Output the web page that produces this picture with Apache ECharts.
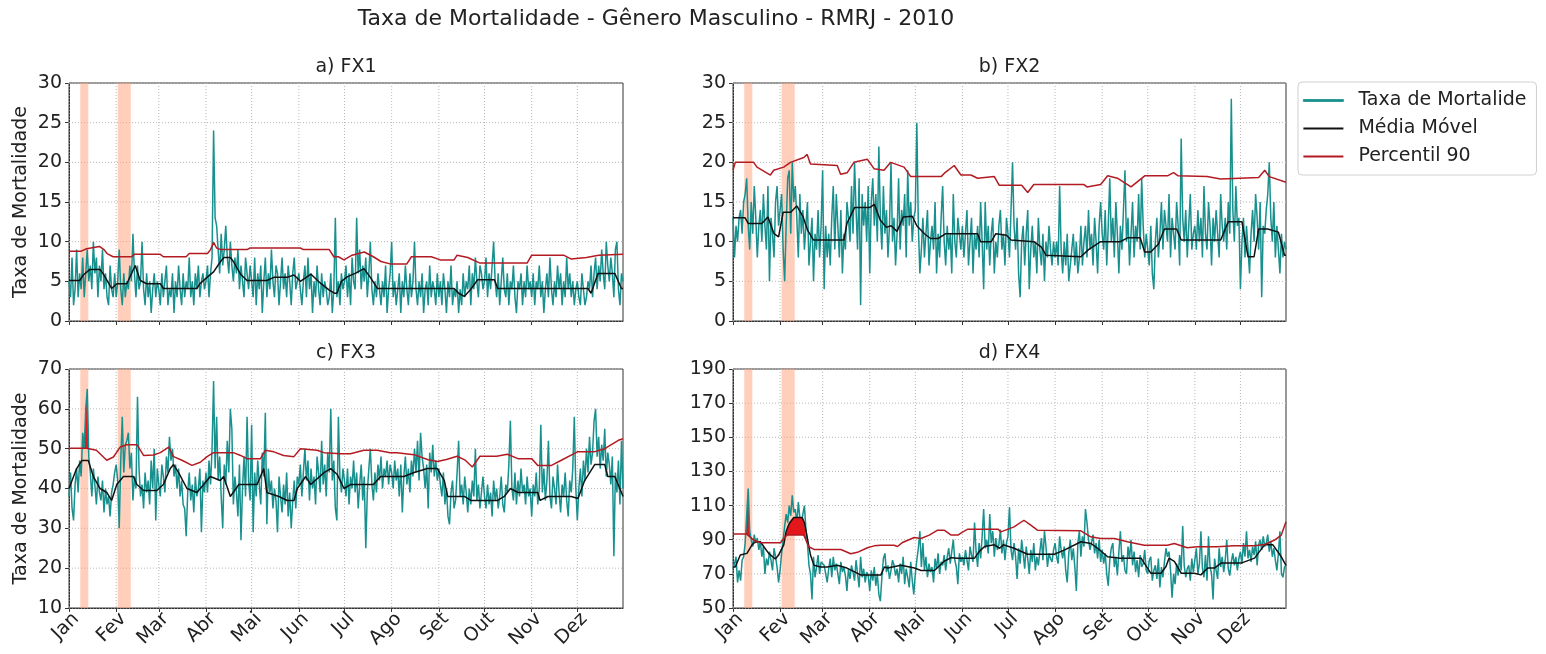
<!DOCTYPE html>
<html>
<head>
<meta charset="utf-8">
<script src="https://cdn.jsdelivr.net/npm/echarts@6/dist/echarts.min.js"></script>
<style>
  html, body { margin: 0; padding: 0; background: #ffffff; }
  #grafico { width: 1546px; height: 654px; }
</style>
</head>
<body>
<div id="grafico"></div>
<script>
// Eixo do tempo: dia do ano (0 = 1º de janeiro de 2010)
const meses = ['Jan', 'Fev', 'Mar', 'Abr', 'Mai', 'Jun', 'Jul', 'Ago', 'Set', 'Out', 'Nov', 'Dez'];
const inicioMes = [0, 31, 59, 90, 120, 151, 181, 212, 243, 273, 304, 334];

// Períodos de onda de calor (dia inicial, dia final)
const ondasCalor = [[7.4, 12.7], [32, 40.6]];

// Marcas do eixo y de cada faixa etária
const ticksFX1 = [0, 5, 10, 15, 20, 25, 30];
const ticksFX2 = [0, 5, 10, 15, 20, 25, 30];
const ticksFX3 = [10, 20, 30, 40, 50, 60, 70];
const ticksFX4 = [50, 70, 90, 110, 130, 150, 170, 190];

// ---------- FX1 ----------
const taxaFX1 = [
  5,3,8,2,4,9,3,6,4,8,3,6,9,5,7,4,10,6,8,3,7,5,9,4,6,3,2,7,4,3,6,
  3,5,9,4,2,6,3,5,4,7,5,11,6,3,7,4,5,10,4,2,6,3,5,1,4,6,3,5,
  4,2,6,3,5,7,2,4,3,6,1,5,3,7,4,2,6,3,5,4,8,3,5,2,6,4,7,3,5,6,4,
  5,7,3,6,8,24,13,12,9,6,11,7,9,12,8,6,10,7,5,8,6,9,4,7,5,3,8,6,4,7,
  5,3,8,2,6,4,7,1,5,8,3,6,4,9,5,3,7,6,2,5,8,4,6,3,7,5,2,6,8,4,5,
  6,4,2,5,7,3,8,4,6,1,5,3,7,4,2,6,3,5,4,2,3,6,1,4,13,3,5,2,6,4,
  5,7,3,6,2,8,5,4,13,6,9,4,7,5,8,3,6,10,4,2,5,3,6,4,2,5,3,7,1,4,6,
  10,3,5,2,4,6,1,5,3,7,4,2,6,3,5,10,4,2,5,3,6,1,4,5,2,7,3,5,4,2,6,
  3,5,2,6,4,1,5,3,7,2,4,3,5,1,4,2,6,3,5,4,7,2,6,4,8,5,3,7,6,4,
  5,8,3,6,4,7,10,5,3,6,2,5,8,4,3,6,2,5,4,7,3,1,5,4,6,2,5,3,7,4,5,
  3,6,2,5,4,7,3,5,1,4,6,3,8,4,2,5,3,7,4,6,2,5,3,8,4,6,3,5,2,4,
  5,3,2,6,4,2,3,5,4,7,3,6,8,4,7,5,9,6,4,10,7,5,8,6,3,9,10,4,2,6,5
];
const mediaFX1 = [[0,5.1],[7,5.1],[9.4,5.8],[13.8,6.5],[20.4,6.5],[22.6,5.9],[28,4.1],[31.4,4.7],[38,4.7],[43.5,7],[46.8,5.1],[51,4.7],[60,4.7],[62,4.1],[84,4.1],[86,4.7],[90.7,5.5],[95,6.2],[99.6,7.5],[101.8,8],[106,8],[108,7.5],[112.7,5.9],[117,5.1],[130,5.1],[134.6,5.5],[143.4,5.5],[147.8,5.8],[152,5],[159,5.9],[165.6,4.7],[171,3.9],[174.4,3.5],[176,3.5],[179,5],[183,5.6],[188,6],[193.8,6.6],[198,5.5],[202.6,4.1],[253,4.1],[256,3.5],[259.7,3.1],[264,4],[268.5,5.2],[279.5,5.2],[281.7,4.1],[341,4.1],[343,3.5],[347.6,6],[358.6,6],[363,4.1],[364,4.1]];
const p90FX1 = [[0,8.8],[8,8.8],[11.6,9.1],[20,9.4],[23,9],[25,8.5],[29,8.1],[41,8.1],[43,8.4],[60,8.4],[62,8.1],[77,8.1],[79,8.5],[91,8.5],[93,9],[95,9.9],[97,9.2],[99.6,9],[117,9],[119,9.2],[152,9.2],[154,9],[171,9],[174,8.1],[177,8.1],[180.7,7.7],[186,8.3],[194,8.7],[200,8.1],[205,7.5],[211,7.2],[222,7.2],[225,8.1],[238,8.1],[244,7.7],[253,7.7],[255,8.3],[262,8],[270,7.3],[301,7.3],[304,8.3],[325,8.3],[330,7.8],[340,8],[348,8.3],[364,8.4]];

// ---------- FX2 ----------
const taxaFX2 = [
  13,8,12,10,13,14,11,15,16,18,12,9,15,11,17,13,8,12,14,10,16,12,9,17,5,13,11,8,15,17,12,
  14,16,9,5,12,18,19,11,20,15,17,13,8,16,11,14,9,12,15,7,10,13,5,11,9,14,8,12,
  19,4,12,8,11,7,13,17,9,16,12,8,14,6,11,9,15,13,10,17,11,20,14,9,18,2,16,12,15,10,17,
  6,15,18,12,16,10,22,13,9,17,11,14,8,12,20,10,13,7,11,18,9,14,12,16,8,19,12,15,10,13,
  14,25,12,6,9,13,8,11,14,7,10,12,9,15,6,11,8,13,17,10,7,12,9,11,6,16,10,8,13,11,9,
  12,8,11,14,7,10,13,6,11,9,12,8,15,10,4,15,9,12,7,11,13,6,10,8,12,14,9,11,7,13,
  11,8,14,20,12,9,13,6,3,10,12,7,11,14,4,9,12,8,10,6,13,9,7,11,5,10,8,12,9,7,10,
  8,10,7,17,9,6,10,7,11,5,5,9,11,7,10,6,8,12,7,10,12,8,14,9,11,7,13,10,6,12,15,
  11,9,14,7,12,18,10,13,8,15,11,6,12,9,14,19,10,13,7,11,15,8,12,10,16,9,18,12,8,11,
  9,7,12,6,4,10,13,8,11,15,9,14,12,10,16,8,13,11,9,15,12,7,23,13,10,14,8,12,16,9,11,
  12,9,14,10,13,8,17,11,9,15,12,7,13,10,14,11,8,16,12,10,13,9,15,11,28,14,10,17,12,13,
  4,10,13,8,12,9,6,11,14,10,16,13,9,15,3,12,11,14,16,20,13,10,15,8,12,9,6,11,8,10,9
];
const mediaFX2 = [[0,13],[8,13],[10,12.3],[19,12.3],[23,13.1],[27,11],[30,10.6],[33,13.7],[38,13.7],[42,14.5],[46,13.2],[49,11.5],[53,10.2],[73,10.2],[75,12.3],[80,14.3],[90,14.3],[93,14.7],[97,12.7],[101,11.8],[104,12],[108,11.3],[112,13.1],[118,13.2],[121,12],[126,11],[130,10.4],[135,10.4],[140,11],[161,11],[163,10],[170,10],[173,11],[180,10.8],[183,10.2],[198,10],[203,9.3],[206,8.3],[229,8.1],[234,9],[242,10],[255,10],[260,10.5],[268,10.5],[271,8.7],[275,8.7],[280,9.7],[284,11.6],[292,11.6],[295,10.2],[321,10.2],[326,12.5],[335,12.5],[339,8.1],[343,8.1],[346,11.6],[352,11.6],[359,11.2],[363,8.3],[364,8.3]];
const p90FX2 = [[0,19],[1.5,20],[13.6,20],[15.8,19.4],[24.6,18.4],[26.8,19],[33.4,19.4],[37.8,20],[46.6,20.6],[48.8,21],[51,19.8],[68.6,19.6],[70.8,18.5],[75.2,18.7],[79.6,20],[88.4,20.4],[92.8,19.2],[99.4,19],[103.8,20],[112.6,19.4],[117,18.2],[137,18.2],[139,18.6],[145.6,19.6],[150,18.4],[156.6,18.4],[161,18],[172,18.2],[175.3,17.1],[190,17.1],[194,16.2],[198,17.2],[231,17.2],[233,16.9],[242,17.2],[246.6,18.3],[253,18],[262,16.9],[271,18.3],[286,18.3],[290,18.7],[293,18.3],[312,18.2],[321,17.9],[346,18.1],[350,19],[353,18.2],[364,17.5]];

// ---------- FX3 ----------
const taxaFX3 = [
  38,44,35,32,41,45,39,47,43,54,50,60,65,48,44,38,45,41,36,43,39,37,42,34,40,36,38,33,39,41,44,
  46,42,30,47,58,44,51,52,54,45,49,37,43,40,63,45,38,41,35,44,39,42,36,47,40,50,32,45,
  41,38,46,43,39,48,44,53,47,50,43,46,40,45,38,42,36,35,28,39,44,37,41,34,43,38,40,45,29,42,39,
  44,39,47,41,50,67,45,58,42,48,38,30,46,41,52,44,60,55,36,43,39,33,46,27,40,48,38,58,42,37,
  56,29,44,38,47,41,36,49,43,59,31,45,39,42,35,40,37,29,43,38,34,41,36,44,33,39,30,37,42,35,43,
  41,46,38,44,50,42,47,37,45,40,43,36,48,44,39,52,41,46,38,49,44,60,42,47,35,32,58,43,39,45,
  42,38,45,36,43,40,47,39,44,35,41,46,37,43,25,39,45,50,41,37,44,39,46,42,48,40,45,43,47,41,46,
  44,40,47,42,45,38,46,34,43,48,41,45,39,47,43,50,44,52,42,54,48,45,40,46,35,49,44,51,43,47,42,
  45,41,38,44,36,40,33,31,39,42,35,37,44,52,38,41,36,43,39,34,40,36,42,38,50,37,41,35,39,43,
  38,35,41,36,39,33,42,37,40,35,38,43,36,34,41,39,46,57,40,37,44,36,42,38,45,39,41,36,43,38,40,
  33,41,38,44,36,40,56,39,45,37,42,52,38,35,43,40,36,46,39,34,41,38,44,37,33,42,39,45,58,40,
  32,40,45,38,47,42,50,44,53,46,49,57,60,48,53,45,51,47,55,43,49,46,41,48,23,44,39,47,36,52,40
];
const mediaFX3 = [[0,40],[5,45],[8.4,47],[12.7,47],[16,43],[20.4,40],[24.8,39],[28,37],[31.4,41],[35.8,43],[42.4,43],[44.6,41],[49,39.5],[57.7,39.5],[62,41],[66.5,45],[68.7,46],[72,44],[77.5,40],[84,39],[88.5,41],[92.8,43],[99.4,42],[101.6,43],[106,38],[111.6,41],[123.6,41],[128,45],[130,39],[137.9,38],[143.4,37],[147.8,37],[150,40],[155.5,43],[158.8,41],[167.6,44],[172,45],[176.3,43.5],[180.7,40],[185,41],[200,41],[204.8,43],[220,43],[226.7,44],[235.5,45],[242,45],[246.6,42],[248.8,38],[259.8,38],[264,37],[281.6,37],[286,38],[290,40],[295,39],[308,39],[309.5,37],[314.7,38],[330,38],[334.4,37.5],[338.8,42],[345.4,46],[352,46],[354,43],[358.6,43],[363,39],[364,38]];
const p90FX3 = [[0,50.1],[11.6,50.1],[18,49.6],[24.8,47.1],[29.2,47.9],[33.6,50.4],[38,51],[44.6,51],[49,48.3],[55.6,48.4],[60,49],[65.5,50.4],[68.7,48],[74.2,47.1],[80.8,45.8],[86.3,46.6],[90.7,48],[95,49],[108,49],[112.7,48.3],[117,47.5],[125.8,47.5],[129,49.6],[134.6,49.2],[141,48.3],[147.8,48],[152,50],[163,49.6],[167.6,49],[178.5,48.7],[185,48.7],[193.7,49.6],[202.5,49.6],[211,49],[215.5,49],[226.7,48.5],[236,47.2],[242,46.8],[248,47.3],[255,48.1],[260,47.2],[265,45.4],[270,48.1],[281,48.1],[288,48.6],[295,47.5],[304,47.5],[308,45.8],[317,45.8],[323.5,47.1],[334,49.2],[345,49.2],[352,50],[361,52.1],[364,52.5]];
// Pico diário acima do percentil 90: [dia, limite inferior, limite superior]
const picoFX3 = [
  [[8.65,50.1,50.1],[9,50.1,54],[10,50.1,50.1],[11,50.1,60],[12,50.1,65],[12.88,50.1,50.1]]
];

// ---------- FX4 ----------
const taxaFX4 = [
  73,76,80,65,72,66,78,80,88,104,120,95,90,86,93,88,91,84,89,80,86,70,79,75,83,78,72,85,80,74,65,
  72,82,90,98,105,100,110,104,116,106,108,99,112,103,98,105,110,96,88,75,70,55,80,68,74,81,70,77,
  78,75,70,65,73,79,68,80,72,76,70,64,77,71,74,69,60,73,67,75,71,66,78,70,62,80,68,73,65,71,69,
  60,72,66,74,63,70,58,54,68,79,82,71,75,67,72,78,75,69,73,65,76,70,80,64,73,68,62,77,66,58,
  70,78,85,95,74,88,72,80,68,76,71,74,65,79,73,82,70,77,75,81,72,80,85,76,83,90,78,74,64,82,77,
  80,75,84,78,72,86,81,77,100,83,74,88,79,92,108,85,90,82,105,88,95,80,91,84,87,96,82,90,78,88,
  92,109,84,78,88,80,67,85,76,90,82,73,86,79,70,84,77,88,72,80,75,83,91,78,95,86,74,82,79,77,84,
  88,80,76,92,84,79,86,72,65,82,90,78,85,74,60,88,95,80,92,86,108,100,90,84,85,93,82,88,79,90,77,
  84,76,82,70,63,78,85,88,74,80,69,83,95,77,81,72,70,86,79,90,75,83,71,78,68,81,74,76,84,72,
  70,78,80,66,72,75,67,79,62,74,68,77,85,80,83,72,56,70,64,76,69,81,72,98,75,68,73,75,66,79,71,
  78,85,70,76,95,73,68,81,66,92,74,70,55,79,72,67,85,74,80,71,78,90,73,69,77,82,75,80,72,79,
  83,76,88,80,95,79,84,77,86,81,89,75,87,90,84,92,86,88,93,83,89,80,85,78,72,82,95,70,68,74,75
];
const mediaFX4 = [[0,74],[1.5,74],[4.8,81],[9.2,82],[12.5,87],[14.7,88.8],[18,88.8],[20.2,86],[23.5,82],[27.9,78.7],[30,81],[33.4,87],[35,95],[37,99.5],[40,103],[45.5,103],[47,100],[48.5,93],[51,81],[53.3,75],[57.7,74],[62,74],[68.6,75],[75,73.4],[84,69.4],[97.4,69.4],[99.6,74],[101.8,73.4],[110.6,75],[119.4,73.4],[123.8,72],[132.6,72],[139,77.4],[143.6,79.5],[148,79.2],[159,79.2],[162,83],[165.6,86],[172,87],[175.5,85],[178,87],[185,85],[193.9,81.5],[211.5,81.5],[218,83.9],[229,88.8],[235.5,87.8],[240,85],[246.6,80],[255,79.2],[268.6,79.2],[270.7,76.3],[275,70.4],[281.7,70.4],[285,74.3],[287,79.2],[290.5,77.3],[295,70.4],[303.6,70.4],[308,69.4],[312.5,73.4],[316.9,73.4],[321.3,76.3],[334.5,76.3],[343.3,79.2],[349.9,87],[355.4,87],[360.9,80],[364,75]];
const p90FX4 = [[0,93.3],[9,93.3],[13.6,89.8],[18,88.2],[31.3,88.2],[33.4,90.7],[35.6,92.7],[46.6,92.7],[49.9,85.9],[53.3,84.3],[71,84.3],[77.5,81.8],[81.9,82.6],[88.5,85.3],[92.9,86.4],[97.3,86.8],[106,86.8],[108.3,86],[111.6,88.4],[119.3,91.3],[123.7,90.7],[129.2,92.7],[134.7,95.6],[139,95.6],[143.6,92.7],[148,92.7],[151.3,94.6],[154.6,96.2],[174.4,96.2],[176.3,94.6],[185,97.5],[191.5,101.4],[196,98.5],[200.4,95.6],[229,95.2],[235.5,91.7],[242,90.7],[251,90.7],[259.6,88.8],[270.7,86.8],[286,86.8],[290.5,87.8],[299,85.3],[305.7,85.9],[318.9,85.9],[329.9,86.4],[343.3,86.4],[349.9,87.2],[356.5,89.8],[360.9,92.7],[364,100.5]];
const picoFX4 = [
  [[8.33,93.3,93.3],[9,93.3,104],[10,92.5,120],[11,91.7,95],[11.8,91,91]]
];
// Média móvel acima do percentil 90 durante a onda de fevereiro
const excessoFX4 = [
  [[34.6,92.6,92.6],[35.6,92.7,95.5],[37,92.7,99.5],[40,92.7,103],[45.5,92.7,103],[47,92,99],[48.3,89.5,89.5]]
];

// ---------- Estilo ----------
const fonte = "'DejaVu Sans', sans-serif";
const corTexto = '#222222';
const corEixo = '#333333';
const corTaxa = '#17908e';
const corMedia = '#111111';
const corP90 = '#b31b22';
const corExcesso = '#e3171b';
const corOnda = 'rgba(255,160,122,0.5)';
const corGrade = '#b8b8b8';
const deslocRotulo = 4.6; // rótulos dos meses levemente à direita da marca

const paineis = [
  { titulo: 'a) FX1', taxa: taxaFX1, media: mediaFX1, p90: p90FX1, picos: [], excesso: [], ticks: ticksFX1,
    grade: { left: 69, top: 83, width: 554, height: 238 }, rotulosX: false, nomeY: true },
  { titulo: 'b) FX2', taxa: taxaFX2, media: mediaFX2, p90: p90FX2, picos: [], excesso: [], ticks: ticksFX2,
    grade: { left: 733, top: 83, width: 553, height: 238 }, rotulosX: false, nomeY: false },
  { titulo: 'c) FX3', taxa: taxaFX3, media: mediaFX3, p90: p90FX3, picos: picoFX3, excesso: [], ticks: ticksFX3,
    grade: { left: 69, top: 369, width: 554, height: 239 }, rotulosX: true, nomeY: true },
  { titulo: 'd) FX4', taxa: taxaFX4, media: mediaFX4, p90: p90FX4, picos: picoFX4, excesso: excessoFX4, ticks: ticksFX4,
    grade: { left: 733, top: 369, width: 553, height: 239 }, rotulosX: true, nomeY: false }
];

const grids = [], xAxes = [], yAxes = [], series = [];
const titulos = [{
  text: 'Taxa de Mortalidade - Gênero Masculino - RMRJ - 2010',
  left: 656, top: 8, textAlign: 'center', padding: 0,
  textStyle: { fontSize: 22, fontWeight: 'normal', color: corTexto, fontFamily: fonte }
}];

// Polígono vermelho entre o percentil 90 e a curva que o ultrapassa
function serieRegioes(regioes, i, z) {
  return {
    type: 'custom', xAxisIndex: i, yAxisIndex: i, z: z, silent: true,
    data: regioes.map(r => [r[0][0], r[0][1]]), encode: { x: 0, y: 1 },
    renderItem: (params, api) => {
      const reg = regioes[params.dataIndex];
      const baixo = reg.map(r => api.coord([r[0], r[1]]));
      const alto = reg.slice().reverse().map(r => api.coord([r[0], r[2]]));
      return { type: 'polygon', shape: { points: baixo.concat(alto) }, style: { fill: corExcesso } };
    }
  };
}

paineis.forEach((p, i) => {
  const yMin = p.ticks[0], yMax = p.ticks[p.ticks.length - 1];
  grids.push(Object.assign({ show: true, borderColor: corEixo, borderWidth: 1, backgroundColor: 'transparent' }, p.grade));

  titulos.push({
    text: p.titulo, left: p.grade.left + p.grade.width / 2, top: p.grade.top - 25,
    textAlign: 'center', padding: 0,
    textStyle: { fontSize: 19, fontWeight: 'normal', color: corTexto, fontFamily: fonte }
  });

  xAxes.push({
    type: 'value', gridIndex: i, min: 0, max: 364,
    axisLine: { show: true, onZero: false, lineStyle: { color: corEixo, width: 1 } },
    axisTick: { show: true, customValues: inicioMes, length: 4, lineStyle: { color: corEixo } },
    splitLine: { show: false },
    axisLabel: p.rotulosX ? {
      show: true,
      customValues: inicioMes.map(d => d + deslocRotulo),
      formatter: v => meses[inicioMes.indexOf(Math.round(v - deslocRotulo))] || '',
      rotate: 45, margin: 8, fontSize: 19, color: corTexto, fontFamily: fonte
    } : { show: false }
  });

  yAxes.push({
    type: 'value', gridIndex: i, min: yMin, max: yMax,
    axisLine: { show: true, onZero: false, lineStyle: { color: corEixo, width: 1 } },
    axisTick: { show: true, customValues: p.ticks, length: 4, lineStyle: { color: corEixo } },
    axisLabel: { customValues: p.ticks, margin: 7, fontSize: 19, color: corTexto, fontFamily: fonte },
    splitLine: { show: false },
    name: p.nomeY ? 'Taxa de Mortalidade' : '',
    nameLocation: 'middle', nameGap: 38,
    nameTextStyle: { fontSize: 19, color: corTexto, fontFamily: fonte }
  });

  // Grade pontilhada: linhas verticais no início de cada mês e horizontais nas marcas do eixo y
  const dadosGrade = inicioMes.map(d => [d, yMin, 0]).concat(p.ticks.map(v => [0, v, 1]));
  series.push({
    type: 'custom', xAxisIndex: i, yAxisIndex: i, z: 1, silent: true,
    data: dadosGrade, encode: { x: 0, y: 1 },
    renderItem: (params, api) => {
      const cs = params.coordSys;
      const pt = api.coord([api.value(0), api.value(1)]);
      const vertical = api.value(2) === 0;
      return {
        type: 'line',
        shape: vertical
          ? { x1: pt[0], y1: cs.y, x2: pt[0], y2: cs.y + cs.height }
          : { x1: cs.x, y1: pt[1], x2: cs.x + cs.width, y2: pt[1] },
        style: { stroke: corGrade, lineWidth: 1, lineDash: [1, 2] }
      };
    }
  });

  // Faixas das ondas de calor
  series.push({
    type: 'custom', xAxisIndex: i, yAxisIndex: i, z: 2, silent: true,
    data: ondasCalor.map(o => [o[0], o[1], yMin]), encode: { x: [0, 1], y: 2 },
    renderItem: (params, api) => {
      const cs = params.coordSys;
      const a = api.coord([api.value(0), api.value(2)]);
      const b = api.coord([api.value(1), api.value(2)]);
      return { type: 'rect', shape: { x: a[0], y: cs.y, width: b[0] - a[0], height: cs.height },
               style: { fill: corOnda } };
    }
  });

  if (p.picos.length) series.push(serieRegioes(p.picos, i, 2.5));

  series.push({
    name: 'Taxa de Mortalide', type: 'line', xAxisIndex: i, yAxisIndex: i, z: 3,
    data: p.taxa.map((v, d) => [d, v]), showSymbol: false, symbol: 'none',
    color: corTaxa, lineStyle: { color: corTaxa, width: 1.5 }, silent: true
  });

  if (p.excesso.length) series.push(serieRegioes(p.excesso, i, 4));

  series.push({
    name: 'Média Móvel', type: 'line', xAxisIndex: i, yAxisIndex: i, z: 5,
    data: p.media, showSymbol: false, symbol: 'none',
    color: corMedia, lineStyle: { color: corMedia, width: 1.5 }, silent: true
  });
  series.push({
    name: 'Percentil 90', type: 'line', xAxisIndex: i, yAxisIndex: i, z: 6,
    data: p.p90, showSymbol: false, symbol: 'none',
    color: corP90, lineStyle: { color: corP90, width: 1.5 }, silent: true
  });
});

const grafico = echarts.init(document.getElementById('grafico'), null, { renderer: 'canvas' });
grafico.setOption({
  animation: false,
  backgroundColor: '#ffffff',
  title: titulos,
  grid: grids,
  xAxis: xAxes,
  yAxis: yAxes,
  legend: {
    orient: 'vertical', left: 1298, top: 82,
    selectedMode: false,
    icon: 'rect', itemWidth: 40, itemHeight: 2, itemGap: 9,
    padding: [9, 10, 9, 5],
    borderColor: '#d0d0d0', borderWidth: 1, borderRadius: 4,
    textStyle: { fontSize: 19, color: corTexto, fontFamily: fonte, padding: [0, 0, 0, 10] },
    data: [
      { name: 'Taxa de Mortalide', itemStyle: { color: corTaxa, borderColor: corTaxa, borderWidth: 0.8 } },
      { name: 'Média Móvel', itemStyle: { color: corMedia } },
      { name: 'Percentil 90', itemStyle: { color: corP90 } }
    ]
  },
  series: series
});
</script>
</body>
</html>
